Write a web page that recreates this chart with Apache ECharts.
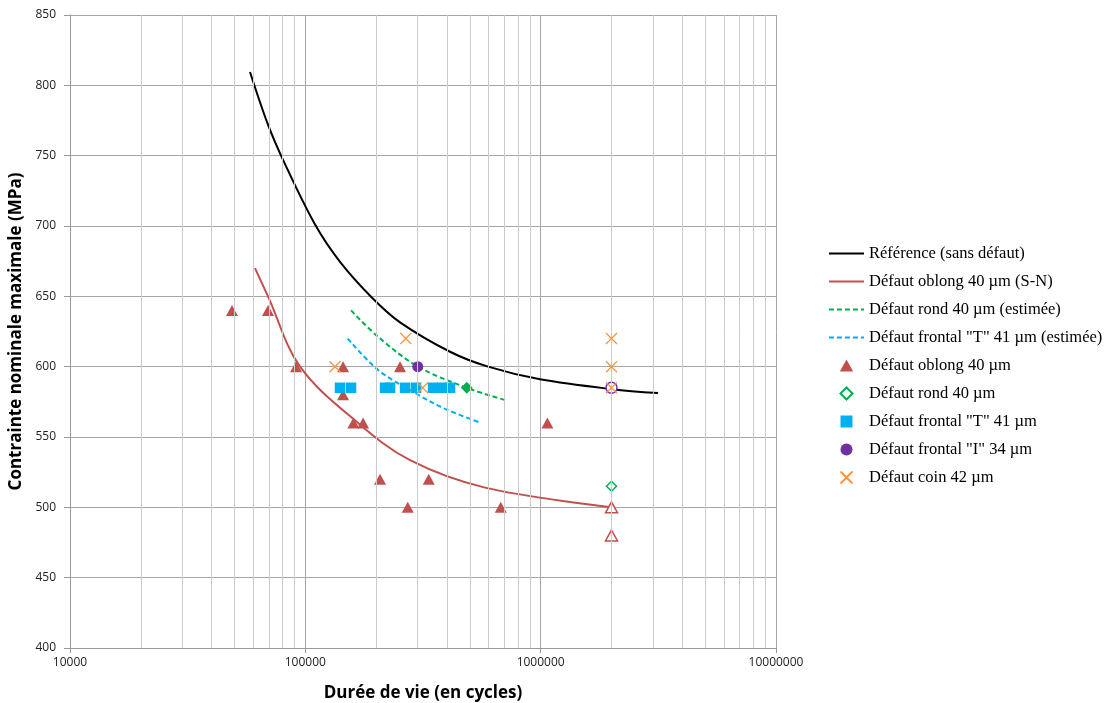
<!DOCTYPE html>
<html>
<head>
<meta charset="utf-8">
<script src="https://cdn.jsdelivr.net/npm/echarts@6/dist/echarts.min.js"></script>
<style>html,body{margin:0;padding:0;background:#fff;}#c{width:1113px;height:703px;}</style>
</head>
<body>
<div id="c"></div>
<script>
// ---- Data ----
const yTicks = [400, 450, 500, 550, 600, 650, 700, 750, 800, 850];
const xMajor = [10000, 100000, 1000000, 10000000];
const xMinor = [20000,30000,40000,50000,60000,70000,80000,90000,
                200000,300000,400000,500000,600000,700000,800000,900000,
                2000000,3000000,4000000,5000000,6000000,7000000,8000000,9000000];

const refN = [58200, 69400, 80400, 110000, 140400, 192100, 252600, 412100, 597700, 994300, 2011000, 3154000];
const refS = [809.5, 772, 747, 701, 674.5, 649, 631.5, 610.6, 600, 591, 584, 581.2];

const snN = [61100, 69400, 95000, 167500, 278600, 580300, 2000000];
const snS = [670, 650, 600, 560, 533.5, 514, 500];

const rondEstN = [156400, 204400, 301300, 485300, 724600];
const rondEstS = [640, 621, 600, 585, 575.7];

const frontEstN = [151400, 204400, 302200, 392300, 558000];
const frontEstS = [620, 597.5, 580, 570, 560];

const oblongN = [48800, 69400, 91300, 144700, 144700, 160000, 176000, 207700, 272400, 334500, 252600, 676800, 1068000];
const oblongS = [640, 640, 600, 600, 580, 560, 560, 520, 500, 520, 600, 500, 560];
const oblongOpenN = [2000000, 2000000];
const oblongOpenS = [500, 480];

const rondN = [485300];
const rondS = [585];
const rondOpenN = [2000000];
const rondOpenS = [515];

const frontTN = [140400, 156400, 218200, 229100, 265300, 295400, 348900, 381100, 412000];
const frontTS = [585, 585, 585, 585, 585, 585, 585, 585, 585];

const frontIN = [300400];
const frontIS = [600];
const frontIOpenN = [2000000];
const frontIOpenS = [585];

const coinN = [133700, 267100, 315400, 2000000, 2000000, 2000000];
const coinS = [600, 620, 585, 620, 600, 585];

const names = [
  'Référence (sans défaut)',
  'Défaut oblong 40 µm (S-N)',
  'Défaut rond 40 µm (estimée)',
  'Défaut frontal "T" 41 µm (estimée)',
  'Défaut oblong 40 µm',
  'Défaut rond 40 µm',
  'Défaut frontal "T" 41 µm',
  'Défaut frontal "I" 34 µm',
  'Défaut coin 42 µm'
];

// ---- helpers ----
const zip = (a, b) => a.map((v, i) => [v, b[i]]);
const openPts = (a, b, fill, stroke) => a.map((v, i) => ({
  value: [v, b[i]],
  itemStyle: { color: fill, borderColor: stroke, borderWidth: 1.5, opacity: 1 }
}));

const RED = '#C0504D', GREEN = '#00B050', BLUE = '#00B0F0', PURPLE = '#7030A0', ORANGE = '#F79646';
const ICON_TRI = 'path://M5,0L10,9L0,9Z';
const ICON_DIA = 'path://M5,0L10,5L5,10L0,5Z';
const ICON_RECT = 'path://M0,0L10,0L10,10L0,10Z';
const ICON_X = 'path://M0,0L10,10M10,0L0,10';

const chart = echarts.init(document.getElementById('c'), null, { renderer: 'canvas' });

const lineSeries = (name, n, s, color, type) => ({
  name, type: 'line', data: zip(n, s), smooth: 0.35, symbol: 'none',
  lineStyle: { color, width: 2, type: type || 'solid' },
  itemStyle: { color, opacity: 0 }, z: 3
});

const legendData = names.map((n, i) => {
  if (i < 4) return { name: n, itemStyle: { opacity: 0 } };
  if (i === 4) return { name: n, icon: ICON_TRI };
  if (i === 5) return { name: n, icon: ICON_DIA };
  if (i === 6) return { name: n, icon: ICON_RECT };
  return { name: n };
});

chart.setOption({
  animation: false,
  backgroundColor: '#ffffff',
  grid: { left: 70, top: 15, right: 337, bottom: 55, containLabel: false, outerBoundsMode: 'none' },
  xAxis: {
    type: 'log', logBase: 10, min: xMajor[0], max: xMajor[xMajor.length - 1],
    name: 'Durée de vie (en cycles)', nameLocation: 'middle', nameGap: 37,
    nameTextStyle: { fontFamily: 'Open Sans', fontWeight: 'bold', fontSize: 17, color: '#000' },
    axisLine: { lineStyle: { color: '#9A9A9A', width: 1 } },
    axisTick: { show: true, length: 5, lineStyle: { color: '#9A9A9A' } },
    axisLabel: { fontFamily: 'Open Sans', fontSize: 12, color: '#222', margin: 9,
      formatter: v => String(Math.round(v)) },
    splitLine: { show: true, lineStyle: { color: '#A6A6A6', width: 1 } }
  },
  yAxis: {
    type: 'value', min: yTicks[0], max: yTicks[yTicks.length - 1], interval: 50,
    name: 'Contrainte nominale maximale (MPa)', nameLocation: 'middle', nameGap: 41, nameRotate: 90,
    nameTextStyle: { fontFamily: 'Open Sans', fontWeight: 'bold', fontSize: 17, color: '#000' },
    axisLine: { show: true, lineStyle: { color: '#9A9A9A', width: 1 } },
    axisTick: { show: true, length: 6, lineStyle: { color: '#9A9A9A' } },
    axisLabel: { fontFamily: 'Open Sans', fontSize: 12, color: '#222', margin: 14 },
    splitLine: { show: true, lineStyle: { color: '#A6A6A6', width: 1 } }
  },
  legend: {
    orient: 'vertical', left: 823, top: 240,
    itemWidth: 35, itemHeight: 12, itemGap: 11,
    textStyle: { fontFamily: 'Liberation Serif', fontSize: 16.5, color: '#000' },
    data: legendData
  },
  series: [
    {
      name: 'minor-grid', type: 'line', data: [], silent: true, z: 1,
      markLine: {
        silent: true, symbol: ['none', 'none'], label: { show: false },
        lineStyle: { color: '#CBCBCB', width: 1, type: 'solid' },
        data: xMinor.map(v => ({ xAxis: v }))
      }
    },
    lineSeries(names[0], refN, refS, '#000000'),
    lineSeries(names[1], snN, snS, RED),
    lineSeries(names[2], rondEstN, rondEstS, GREEN, [5, 3]),
    lineSeries(names[3], frontEstN, frontEstS, BLUE, [5, 3]),
    {
      name: names[4], type: 'scatter', symbol: 'triangle', symbolSize: [12, 11], z: 4,
      itemStyle: { color: RED, opacity: 1 },
      data: zip(oblongN, oblongS).concat(openPts(oblongOpenN, oblongOpenS, '#ffffff', RED))
    },
    {
      name: names[5], type: 'scatter', symbol: 'diamond', symbolSize: 10, z: 4,
      itemStyle: { color: '#ffffff', borderColor: GREEN, borderWidth: 1.3, opacity: 1 },
      data: zip(rondN, rondS).map(p => ({ value: p, itemStyle: { color: GREEN } }))
        .concat(openPts(rondOpenN, rondOpenS, '#ffffff', GREEN))
    },
    {
      name: names[6], type: 'scatter', symbol: 'rect', symbolSize: 10.5, z: 4,
      itemStyle: { color: BLUE, opacity: 1 },
      data: zip(frontTN, frontTS)
    },
    {
      name: names[7], type: 'scatter', symbol: 'circle', symbolSize: 11, z: 4,
      itemStyle: { color: PURPLE, opacity: 1 },
      data: zip(frontIN, frontIS).concat(openPts(frontIOpenN, frontIOpenS, '#ffffff', PURPLE))
    },
    {
      name: names[8], type: 'scatter', symbol: ICON_X, symbolSize: 11, z: 5,
      itemStyle: { color: 'rgba(0,0,0,0)', borderColor: ORANGE, borderWidth: 1.3, opacity: 1 },
      data: zip(coinN, coinS)
    }
  ]
});
</script>
</body>
</html>
